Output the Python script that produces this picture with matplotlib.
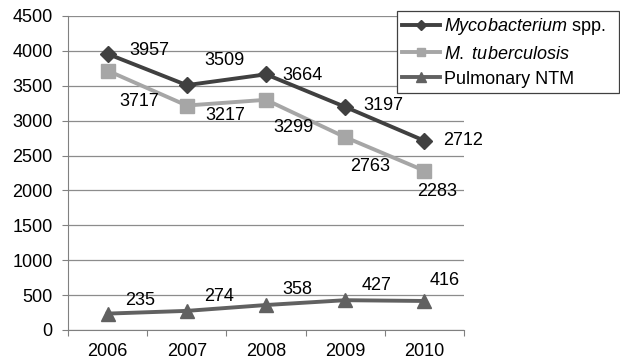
import matplotlib
matplotlib.use("Agg")
import matplotlib.pyplot as plt

years = ["2006", "2007", "2008", "2009", "2010"]
myco = [3957, 3509, 3664, 3197, 2712]
mtb = [3717, 3217, 3299, 2763, 2283]
ntm = [235, 274, 358, 427, 416]

plt.rcParams['font.family'] = ['Liberation Sans', 'DejaVu Sans']
plt.rcParams['mathtext.fontset'] = 'custom'
plt.rcParams['mathtext.rm'] = 'Liberation Sans'
plt.rcParams['mathtext.it'] = 'Liberation Sans:italic'

FS = 13
fig = plt.figure(figsize=(6.2, 3.62), dpi=100)
ax = fig.add_axes([68/620, 1-330/362, (464-68)/620, (330-16)/362])

x = list(range(len(years)))
l1, = ax.plot(x, myco, color='#404040', lw=2.8, marker='D', ms=8.5, zorder=3)
l2, = ax.plot(x, mtb, color='#a6a6a6', lw=2.8, marker='s', ms=9.5, zorder=3)
l3, = ax.plot(x, ntm, color='#616161', lw=2.8, marker='^', ms=10.5, zorder=3)

ax.set_xlim(-0.5, 4.5)
ax.set_ylim(0, 4500)
ax.set_yticks(range(0, 4501, 500))
ax.set_xticks([i - 0.5 for i in range(6)], minor=False)
ax.set_xticklabels([])
ax.set_xticks(x, minor=True)
ax.set_xticklabels(years, minor=True, fontsize=FS)
ax.tick_params(axis='x', which='minor', length=0, pad=9)
ax.tick_params(axis='x', which='major', length=4, color='#808080')
ax.tick_params(axis='y', length=4, color='#808080', labelsize=FS, pad=7)
ax.grid(axis='y', color='#8c8c8c', lw=0.9)
ax.set_axisbelow(True)
for s in ['top', 'right']:
    ax.spines[s].set_visible(False)
for s in ['left', 'bottom']:
    ax.spines[s].set_color('#808080')

myco_off = [(42, 3), (38, 25), (36, -1), (38, 1), (39, 0)]
mtb_off = [(32, -31), (38, -10), (27, -28), (25, -29), (13, -21)]
ntm_off = [(33, 13), (32, 14), (31, 16), (31, 15), (20, 20)]
for vals, offs in [(myco, myco_off), (mtb, mtb_off), (ntm, ntm_off)]:
    for i, (v, o) in enumerate(zip(vals, offs)):
        ax.annotate(str(v), (i, v), xytext=o, textcoords='offset pixels',
                    ha='center', va='center', fontsize=FS, zorder=4)

leg = fig.legend([l1, l2, l3],
                 [r'$\mathit{Mycobacterium}$ spp.', r'$\mathit{M.}$ $\mathit{tuberculosis}$', 'Pulmonary NTM'],
                 loc='upper left', bbox_to_anchor=(397/620, 1-11/362, 222/620, 0),
                 mode='expand',
                 fontsize=FS, frameon=True, fancybox=False, handlelength=2.1,
                 borderpad=0.3, labelspacing=0.45, handletextpad=0.2,
                 borderaxespad=0, markerscale=0.65)
leg.get_frame().set_edgecolor('#404040')
leg.get_frame().set_linewidth(0.9)
leg.get_frame().set_alpha(1)
fig.savefig('out.png', dpi=100)
